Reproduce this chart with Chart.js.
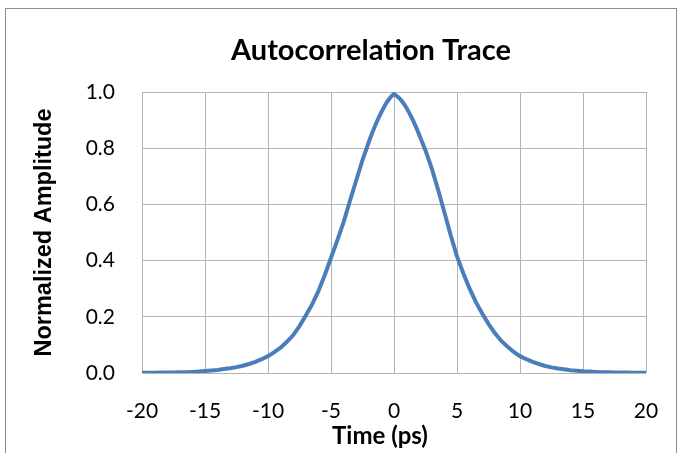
<!DOCTYPE html>
<html>
<head>
<meta charset="utf-8">
<script src="https://cdn.jsdelivr.net/npm/chart.js@4"></script>
<style>
  html, body { margin: 0; padding: 0; background: #fff; }
  #wrap { position: relative; width: 677px; height: 453px; overflow: hidden; }
  #frame { position: absolute; left: 5px; top: 8px; width: 670px; height: 480px; border: 1px solid #8c8c8c; }
  #chart { position: absolute; left: 0; top: 0; }
</style>
</head>
<body>
<div id="wrap">
  <div id="frame"></div>
  <canvas id="chart" width="677" height="453"></canvas>
</div>
<script>
// Autocorrelation trace
const timePs = [
  -20, -19.5, -19, -18.5, -18, -17.5, -17, -16.5, -16, -15.5,
  -15, -14.5, -14, -13.5, -13, -12.5, -12, -11.5, -11, -10.5,
  -10, -9.5, -9, -8.5, -8, -7.5, -7, -6.5, -6, -5.5,
  -5, -4.5, -4, -3.5, -3, -2.5, -2, -1.75, -1.5, -1.25,
  -1, -0.75, -0.5, -0.25, 0, 0.25, 0.5, 0.75, 1, 1.25,
  1.5, 1.75, 2, 2.5, 3, 3.5, 4, 4.5, 5, 5.5,
  6, 6.5, 7, 7.5, 8, 8.5, 9, 9.5, 10, 10.5,
  11, 11.5, 12, 12.5, 13, 13.5, 14, 14.5, 15, 15.5,
  16, 16.5, 17, 17.5, 18, 18.5, 19, 19.5, 20
];
const amplitude = [
  0.001, 0.001, 0.001, 0.002, 0.002, 0.002, 0.003, 0.003, 0.004, 0.005,
  0.007, 0.009, 0.011, 0.014, 0.017, 0.021, 0.026, 0.032, 0.040, 0.049,
  0.060, 0.074, 0.090, 0.111, 0.135, 0.167, 0.205, 0.244, 0.291, 0.348,
  0.410, 0.472, 0.537, 0.612, 0.685, 0.758, 0.822, 0.852, 0.880, 0.905,
  0.928, 0.950, 0.968, 0.983, 0.993, 0.985, 0.975, 0.960, 0.943, 0.922,
  0.900, 0.875, 0.848, 0.792, 0.727, 0.652, 0.572, 0.490, 0.415, 0.355,
  0.300, 0.252, 0.212, 0.175, 0.142, 0.115, 0.094, 0.075, 0.060, 0.049,
  0.040, 0.032, 0.025, 0.020, 0.016, 0.013, 0.010, 0.008, 0.006, 0.005,
  0.004, 0.003, 0.003, 0.002, 0.002, 0.002, 0.001, 0.001, 0.001
];
const xTicks = [-20, -15, -10, -5, 0, 5, 10, 15, 20];
const yTicks = [0, 0.2, 0.4, 0.6, 0.8, 1.0];

const chartTitle = 'Autocorrelation Trace';
const xTitle = 'Time (ps)';
const yTitle = 'Normalized Amplitude';

const gridColor = '#b4b4b4';
const lineColor = '#4a7ebb';

// chart title and x-axis title sit a little left of the plot centre, as in the original
const titlePlugin = {
  id: 'excelTitles',
  afterDraw(chart) {
    const ctx = chart.ctx;
    ctx.save();
    ctx.fillStyle = '#000';
    ctx.textAlign = 'center';
    ctx.textBaseline = 'middle';
    ctx.font = "bold 29px 'Lato', sans-serif";
    ctx.fillText(chartTitle, 371, 51);
    ctx.font = "bold 24px 'Lato', sans-serif";
    ctx.fillText(xTitle, 380, 436);
    ctx.restore();
  },
};

new Chart(document.getElementById('chart'), {
  type: 'line',
  data: {
    datasets: [{
      data: timePs.map((t, i) => ({ x: t, y: amplitude[i] })),
      borderColor: lineColor,
      borderWidth: 4,
      pointRadius: 0,
      tension: 0,
      fill: false,
    }],
  },
  options: {
    responsive: false,
    animation: false,
    layout: { padding: { top: 92, right: 31, bottom: 0, left: 0 } },
    plugins: {
      legend: { display: false },
      tooltip: { enabled: false },
    },
    scales: {
      x: {
        type: 'linear',
        min: -20,
        max: 20,
        afterBuildTicks: (scale) => { scale.ticks = xTicks.map(v => ({ value: v })); },
        afterFit: (scale) => {
          scale.height = 80;
          scale.paddingLeft = 0;
          scale.paddingRight = 0;
        },
        grid: { color: gridColor, lineWidth: 1, drawTicks: false },
        border: { display: false },
        ticks: {
          padding: 26,
          color: '#000',
          font: { family: "'Lato', sans-serif", size: 21 },
          maxRotation: 0,
        },
      },
      y: {
        min: 0,
        max: 1,
        afterBuildTicks: (scale) => { scale.ticks = yTicks.map(v => ({ value: v })); },
        afterFit: (scale) => {
          scale.width = 142;
          scale.paddingTop = 0;
          scale.paddingBottom = 0;
        },
        grid: { color: gridColor, lineWidth: 1, drawTicks: false },
        border: { display: false },
        ticks: {
          padding: 27,
          color: '#000',
          font: { family: "'Lato', sans-serif", size: 21 },
          callback: (v) => v.toFixed(1),
        },
        title: {
          display: true,
          text: yTitle,
          color: '#000',
          font: { family: "'Liberation Sans', Arial, sans-serif", size: 23.5, weight: 'bold' },
          padding: { top: 30, bottom: 0 },
        },
      },
    },
  },
  plugins: [titlePlugin],
});
</script>
</body>
</html>
